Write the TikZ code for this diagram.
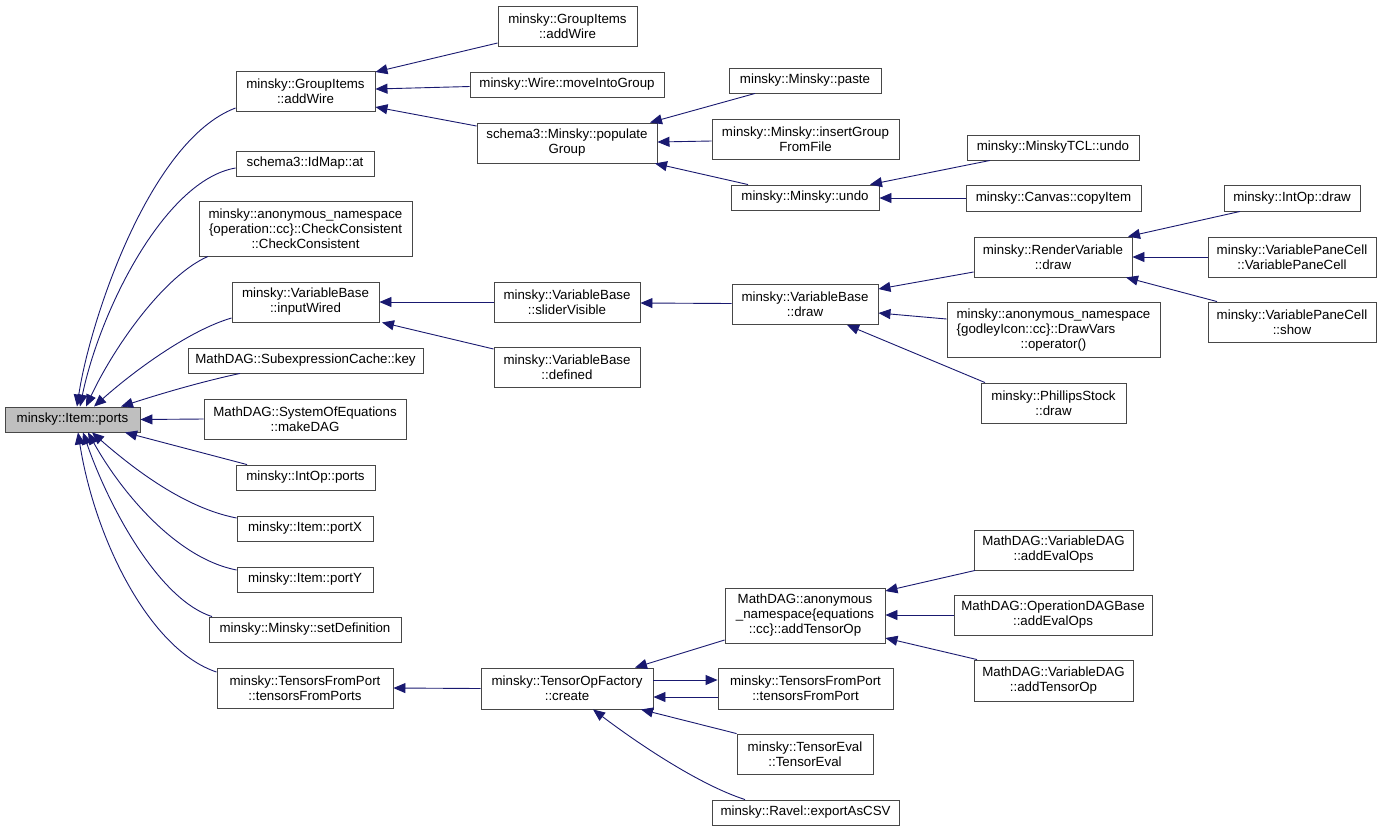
\documentclass[tikz,border=0pt]{standalone}
\usepackage{fontspec}
\setmainfont{Liberation Sans}
\usetikzlibrary{arrows.meta}
\definecolor{mblue}{RGB}{25,25,112}
\definecolor{pgray}{RGB}{191,191,191}
\begin{document}
\begin{tikzpicture}[x=1pt,y=-1pt,
  box/.style={draw=black!72, line width=0.9pt, fill=white, align=center, inner sep=0pt,
    font=\fontsize{13.3}{15}\selectfont},
  sz/.style 2 args={minimum width=#1pt, minimum height=#2pt},
  callarr/.style={draw=mblue, line width=0.9pt, -{Triangle[length=12pt,width=10pt]}}]
\useasboundingbox (0,0) rectangle (1381,831);
\fill[white] (0,0) rectangle (1381,831);
% column 0
\node[box, sz={135}{25}, fill=pgray] (ports) at (72.5,419.5) {minsky::Item::ports};
% column 1
\node[box, sz={139}{40}] (gaw) at (305.5,91) {minsky::GroupItems\\::addWire};
\node[box, sz={138}{25}] (idmap) at (305,163.5) {schema3::IdMap::at};
\node[box, sz={213}{55}] (chk) at (305.5,228.5) {minsky::anonymous\_namespace\\\{operation::cc\}::CheckConsistent\\::CheckConsistent};
\node[box, sz={147}{40}] (inw) at (305.5,302) {minsky::VariableBase\\::inputWired};
\node[box, sz={235}{25}] (subx) at (305.5,360.5) {MathDAG::SubexpressionCache::key};
\node[box, sz={202}{40}] (mkdag) at (305,419) {MathDAG::SystemOfEquations\\::makeDAG};
\node[box, sz={139}{25}] (intopports) at (305.5,477.5) {minsky::IntOp::ports};
\node[box, sz={136}{25}] (portx) at (305,528.5) {minsky::Item::portX};
\node[box, sz={136}{25}] (porty) at (305,579.5) {minsky::Item::portY};
\node[box, sz={192}{25}] (setdef) at (305,629.5) {minsky::Minsky::setDefinition};
\node[box, sz={176}{40}] (tfps) at (305,688) {minsky::TensorsFromPort\\::tensorsFromPorts};
% column 2
\node[box, sz={139}{40}] (gaw2) at (567.5,26) {minsky::GroupItems\\::addWire};
\node[box, sz={194}{25}] (mig) at (567,84.5) {minsky::Wire::moveIntoGroup};
\node[box, sz={180}{40}] (popg) at (567,143) {schema3::Minsky::populate\\Group};
\node[box, sz={146}{40}] (svis) at (567,302) {minsky::VariableBase\\::sliderVisible};
\node[box, sz={146}{40}] (vdef) at (567,367) {minsky::VariableBase\\::defined};
\node[box, sz={172}{41}] (tofc) at (567,688.5) {minsky::TensorOpFactory\\::create};
% column 3
\node[box, sz={152}{25}] (paste) at (805,80.5) {minsky::Minsky::paste};
\node[box, sz={187}{40}] (igff) at (805.5,139) {minsky::Minsky::insertGroup\\FromFile};
\node[box, sz={148}{25}] (mundo) at (805,197.5) {minsky::Minsky::undo};
\node[box, sz={146}{40}] (vbdraw) at (805,304.5) {minsky::VariableBase\\::draw};
\node[box, sz={160}{55}] (ato) at (805,615.5) {MathDAG::anonymous\\\_namespace\{equations\\::cc\}::addTensorOp};
\node[box, sz={175}{41}] (tfp) at (805.5,688.5) {minsky::TensorsFromPort\\::tensorsFromPort};
\node[box, sz={136}{40}] (teval) at (805,754) {minsky::TensorEval\\::TensorEval};
\node[box, sz={187}{25}] (ravel) at (805.5,812.5) {minsky::Ravel::exportAsCSV};
% column 4
\node[box, sz={172}{25}] (tclundo) at (1053,147.5) {minsky::MinskyTCL::undo};
\node[box, sz={175}{26}] (copy) at (1053.5,198) {minsky::Canvas::copyItem};
\node[box, sz={158}{40}] (rvdraw) at (1053,257) {minsky::RenderVariable\\::draw};
\node[box, sz={213}{55}] (drawvars) at (1053.5,330) {\begin{tabular}{@{}l@{}}minsky::anonymous\_namespace\\\{godleyIcon::cc\}::DrawVars\end{tabular}\\::operator()};
\node[box, sz={145}{40}] (phil) at (1053.5,403) {minsky::PhillipsStock\\::draw};
\node[box, sz={159}{40}] (vde) at (1053.5,550) {MathDAG::VariableDAG\\::addEvalOps};
\node[box, sz={198}{40}] (odb) at (1053,615) {MathDAG::OperationDAGBase\\::addEvalOps};
\node[box, sz={159}{41}] (vdto) at (1053.5,680.5) {MathDAG::VariableDAG\\::addTensorOp};
% column 5
\node[box, sz={136}{26}] (intopdraw) at (1292,198) {minsky::IntOp::draw};
\node[box, sz={168}{40}] (vpc) at (1292,257) {minsky::VariablePaneCell\\::VariablePaneCell};
\node[box, sz={168}{40}] (vpcshow) at (1292,322) {minsky::VariablePaneCell\\::show};
% edges into ports
\draw[callarr] (gaw.west |- 0,108) .. controls (150,140) and (90,320) .. (ports.north -| 77,0);
\draw[callarr] (idmap.west |- 0,168) .. controls (165,180) and (100,310) .. (ports.north -| 80,0);
\draw[callarr] (chk.south west -| 208,0) .. controls (165,275) and (115,345) .. (ports.north -| 86,0);
\draw[callarr] (inw.west |- 0,318) .. controls (190,330) and (135,370) .. (ports.north -| 94,0);
\draw[callarr] (subx.south west -| 240,0) .. controls (200,382) and (160,394) .. (ports.north -| 121,0);
\draw[callarr] (mkdag.west) -- (ports.east);
\draw[callarr] (intopports.north west -| 247,0) -- (ports.south -| 125,0);
\draw[callarr] (portx.west |- 0,518) .. controls (185,508) and (135,470) .. (ports.south -| 92,0);
\draw[callarr] (porty.west |- 0,570) .. controls (175,558) and (120,490) .. (ports.south -| 88,0);
\draw[callarr] (setdef.north west -| 212,0) .. controls (160,600) and (110,510) .. (ports.south -| 83,0);
\draw[callarr] (tfps.west |- 0,672) .. controls (150,650) and (95,540) .. (ports.south -| 78,0);
% group items
\draw[callarr] (gaw2.west |- 0,43) -- (gaw.east |- 0,72);
\draw[callarr] (mig.west |- 0,86.5) -- (gaw.east |- 0,89);
\draw[callarr] (popg.west |- 0,126) -- (gaw.east |- 0,107);
\draw[callarr] (paste.south west -| 755,0) -- (popg.north east -| 650,0);
\draw[callarr] (igff.west |- 0,141) -- (popg.east |- 0,142);
\draw[callarr] (mundo.north west -| 748,0) -- (popg.south east -| 655,0);
\draw[callarr] (tclundo.south west -| 990,0) -- (mundo.north east -| 870,0);
\draw[callarr] (copy.west |- 0,198) -- (mundo.east |- 0,198);
% variable base
\draw[callarr] (svis.west |- 0,302) -- (inw.east |- 0,302);
\draw[callarr] (vdef.west |- 0,349) -- (inw.south east -| 382,0);
\draw[callarr] (vbdraw.west |- 0,303.5) -- (svis.east |- 0,303);
\draw[callarr] (rvdraw.west |- 0,272) -- (vbdraw.east |- 0,289);
\draw[callarr] (drawvars.west |- 0,319) -- (vbdraw.east |- 0,313);
\draw[callarr] (phil.north west -| 985,0) -- (vbdraw.south east -| 847,0);
\draw[callarr] (intopdraw.south west -| 1240,0) -- (rvdraw.north east -| 1128,0);
\draw[callarr] (vpc.west) -- (rvdraw.east);
\draw[callarr] (vpcshow.north west -| 1217,0) -- (rvdraw.south east -| 1126,0);
% tensors
\draw[callarr] (tofc.west) -- (tfps.east);
\draw[callarr] (ato.west |- 0,640) -- (tofc.north east -| 635,0);
\draw[callarr] (tfp.west |- 0,697) -- (tofc.east |- 0,697);
\draw[callarr] (tofc.east |- 0,680) -- (tfp.west |- 0,680);
\draw[callarr] (teval.north west) -- (tofc.south east -| 641,0);
\draw[callarr] (ravel.north west -| 745,0) .. controls (700,785) and (640,745) .. (tofc.south -| 593,0);
\draw[callarr] (vde.south west -| 975,0) -- (ato.east |- 0,591);
\draw[callarr] (odb.west) -- (ato.east |- 0,615);
\draw[callarr] (vdto.north west -| 977,0) -- (ato.east |- 0,638);
\end{tikzpicture}
\end{document}
